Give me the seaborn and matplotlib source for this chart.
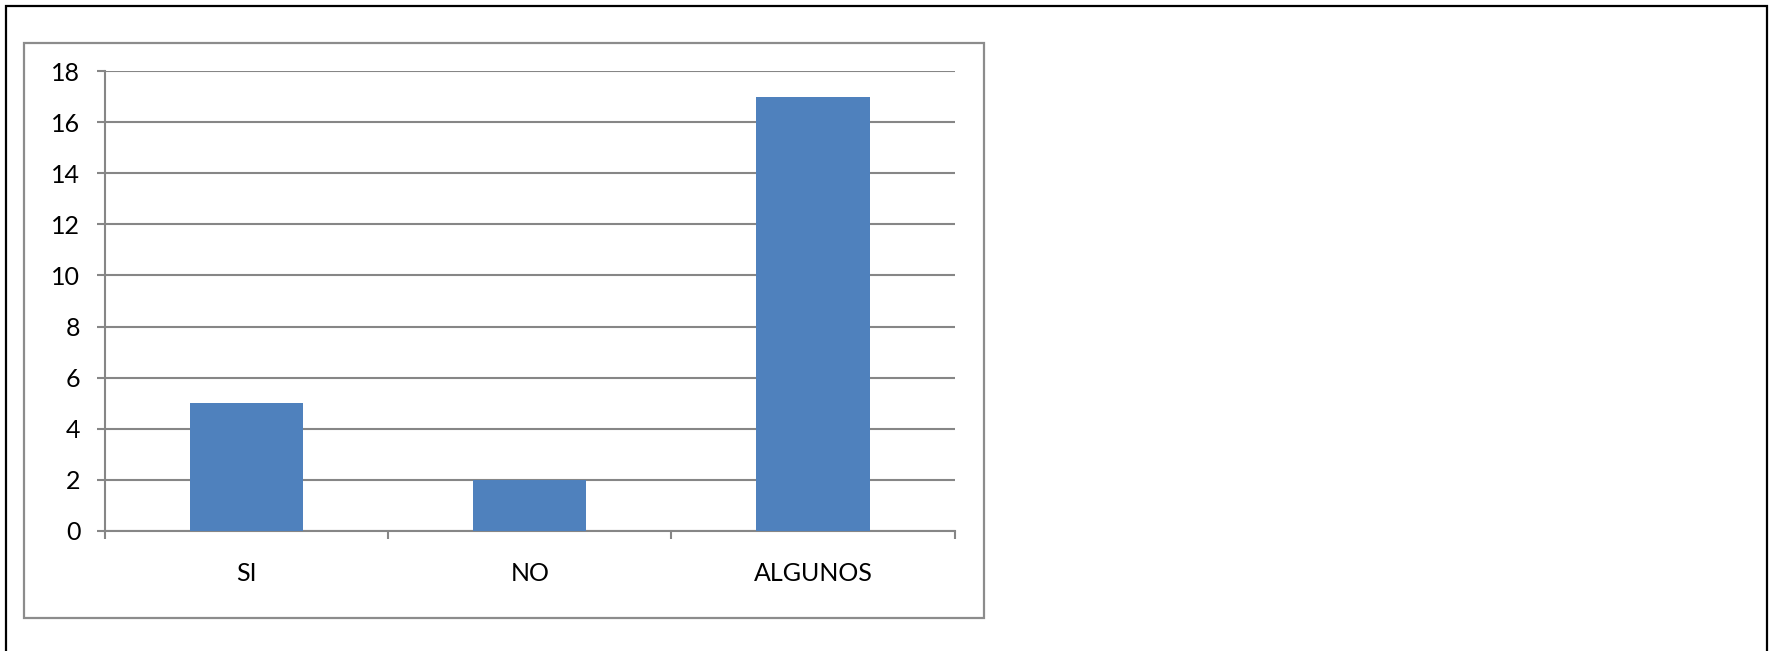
import matplotlib
matplotlib.use("Agg")
import matplotlib.pyplot as plt
from matplotlib.patches import Rectangle
import seaborn as sns
import pandas as pd

# Survey answers and their counts
categories = ["SI", "NO", "ALGUNOS"]
counts = [5, 2, 17]
y_ticks = [0, 2, 4, 6, 8, 10, 12, 14, 16, 18]

BAR_COLOR = "#4F81BD"
GRID_COLOR = "#868686"
W, H = 1772, 651

sns.set_theme(style="white")
plt.rcParams["font.family"] = ["Lato", "DejaVu Sans"]

fig = plt.figure(figsize=(W / 100, H / 100), dpi=100)
fig.patch.set_facecolor("white")

# Outer page border and chart frame, in pixel-based figure coordinates
def px_rect(x0, y0, x1, y1, **kw):
    return Rectangle((x0 / W, 1 - y1 / H), (x1 - x0) / W, (y1 - y0) / H,
                     transform=fig.transFigure, fill=False, **kw)

fig.patches.append(px_rect(6, 6, 1767, 660, edgecolor="black", linewidth=1.6))
fig.patches.append(px_rect(23.5, 42.5, 984, 618, edgecolor="#8C8C8C", linewidth=1.6))

left, right = 105 / W, 954.7 / W
bottom, top = 1 - 530.7 / H, 1 - 71.3 / H
ax = fig.add_axes([left, bottom, right - left, top - bottom])

df = pd.DataFrame({"answer": categories, "count": counts})
sns.barplot(data=df, x="answer", y="count", color=BAR_COLOR, width=0.4,
            saturation=1, ax=ax, zorder=3)
for p in ax.patches:
    p.set_edgecolor("none")

ax.set_xlim(-0.5, len(categories) - 0.5)
ax.set_ylim(0, 18)
ax.set_yticks(y_ticks)
ax.set_yticklabels([str(t) for t in y_ticks])
ax.yaxis.grid(True, color=GRID_COLOR, linewidth=1.5, zorder=0)
ax.set_axisbelow(True)
ax.set_xlabel("")
ax.set_ylabel("")

for side in ("top", "right"):
    ax.spines[side].set_visible(False)
for side in ("left", "bottom"):
    ax.spines[side].set_color(GRID_COLOR)
    ax.spines[side].set_linewidth(1.5)

# Category boundary ticks on the x axis
ax.set_xticks([-0.5, 0.5, 1.5, 2.5], minor=True)
ax.tick_params(axis="x", which="minor", length=5.8, width=1.5, color=GRID_COLOR,
               direction="out", bottom=True)
ax.tick_params(axis="x", which="major", length=0, pad=22.5, labelsize=18,
               labelcolor="black")
ax.tick_params(axis="y", length=5.8, width=1.5, color=GRID_COLOR, direction="out",
               left=True, pad=12, labelsize=18, labelcolor="black")

fig.savefig("out.png", dpi=100, facecolor="white")
